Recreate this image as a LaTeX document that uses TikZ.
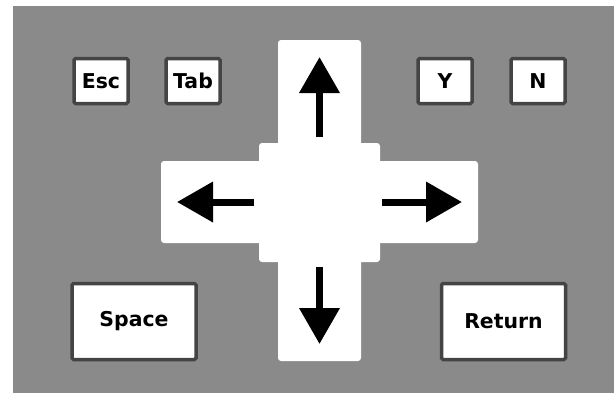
\documentclass[tikz,border=0pt]{standalone}
\usepackage{fontspec}
\setmainfont{DejaVu Sans}
\usetikzlibrary{arrows.meta}
\definecolor{padgray}{RGB}{138,138,138}
\definecolor{rimgray}{RGB}{68,68,68}

\begin{document}
\begin{tikzpicture}[
  x=1bp, y=-1bp,
  every node/.style={inner sep=0pt, outer sep=0pt},
  keycap/.style={draw=rimgray, fill=white, line width=3.5bp, rounded corners=1.5bp,
    minimum width=54bp, minimum height=45bp, font=\fontsize{20.5}{20.5}\selectfont\bfseries},
  widekey/.style={keycap, minimum width=124bp, minimum height=76bp},
  padpart/.style={fill=white, rounded corners=3bp},
  keyarrow/.style={line width=7bp, -{Triangle[length=36bp,width=39bp]}}
]
\useasboundingbox (0,0) rectangle (614,393);
\fill[padgray] (13,6) rectangle (614,393);
\node[padpart, minimum width=83bp, minimum height=321bp] (vbar) at (319.5,200.5) {};
\node[padpart, minimum width=317bp, minimum height=82bp] (hbar) at (319.5,202) {};
\node[padpart, minimum width=121bp, minimum height=119bp] (pad) at (319.5,202.5) {};
\coordinate (uptip) at (319.5,57);   \coordinate (upend) at (319.5,137);
\coordinate (lefttip) at (177,202);  \coordinate (leftend) at (254,202);
\coordinate (righttip) at (462,202); \coordinate (rightend) at (382,202);
\coordinate (downtip) at (319.5,344); \coordinate (downend) at (319.5,267);
\draw[keyarrow] (upend) -- (uptip);
\draw[keyarrow] (leftend) -- (lefttip);
\draw[keyarrow] (rightend) -- (righttip);
\draw[keyarrow] (downend) -- (downtip);
\node[keycap] (esc) at (101,81) {Esc};
\node[keycap] (tab) at (193,81) {Tab};
\node[keycap] (ykey) at (445,81) {Y};
\node[keycap] (nkey) at (538,81) {N};
\node[widekey] (space) at (134,321.5) {Space};
\node[widekey] (return) at (503.5,321.5) {Return};
\end{tikzpicture}
\end{document}
